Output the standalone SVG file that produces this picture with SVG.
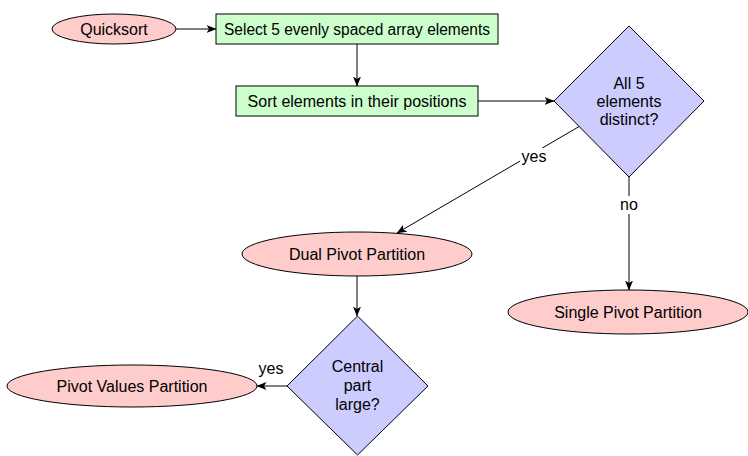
<svg xmlns="http://www.w3.org/2000/svg" width="748" height="456" viewBox="0 0 748 456">
  <style>
    text { font-family: "Liberation Sans", Arial, sans-serif; font-size: 16px; fill: #000; text-anchor: middle; }
    .start { fill: #ffcccc; stroke: #000; stroke-width: 1; }
    .proc { fill: #ccffcc; stroke: #000; stroke-width: 1; }
    .dec { fill: #ccccff; stroke: #000; stroke-width: 1; }
    .edge { fill: none; stroke: #000; stroke-width: 1; marker-end: url(#arrow); }
    .lbl { fill: #fff; stroke: none; }
  </style>
  <defs>
    <marker id="arrow" viewBox="0 0 10 8" refX="9.5" refY="4" markerWidth="10" markerHeight="8" markerUnits="userSpaceOnUse" orient="auto">
      <path d="M0,0 L10,4 L0,8 L2.5,4 Z" fill="#000"/>
    </marker>
  </defs>
  <rect width="748" height="456" fill="#fff"/>

  <g id="connectors">
    <line class="edge" x1="176" y1="29" x2="216" y2="29"/>
    <line class="edge" x1="357" y1="44" x2="357" y2="86"/>
    <line class="edge" x1="478" y1="101" x2="554" y2="101"/>
    <line class="edge" x1="580" y1="126" x2="397" y2="233"/>
    <line class="edge" x1="629" y1="177" x2="629" y2="290"/>
    <line class="edge" x1="357" y1="276" x2="357" y2="316"/>
    <line class="edge" x1="287" y1="386" x2="257" y2="386"/>
    <rect class="lbl" x="520" y="148" width="28" height="18"/>
    <text x="534" y="162">yes</text>
    <rect class="lbl" x="618" y="196" width="22" height="18"/>
    <text x="629" y="210">no</text>
    <text x="271" y="374">yes</text>
  </g>

  <g id="quicksort">
    <ellipse class="start" cx="114" cy="29" rx="62" ry="15"/>
    <text x="114" y="35">Quicksort</text>
  </g>
  <g id="select">
    <rect class="proc" x="216" y="14" width="282" height="30"/>
    <text x="357" y="35" textLength="266" lengthAdjust="spacingAndGlyphs">Select 5 evenly spaced array elements</text>
  </g>
  <g id="sort">
    <rect class="proc" x="236" y="86" width="242" height="30"/>
    <text x="357" y="107">Sort elements in their positions</text>
  </g>
  <g id="distinct">
    <polygon class="dec" points="629,26 704,101 629,177 554,101"/>
    <text x="629" y="89">All 5</text>
    <text x="629" y="107">elements</text>
    <text x="629" y="125">distinct?</text>
  </g>
  <g id="dual">
    <ellipse class="start" cx="357" cy="254" rx="115" ry="22"/>
    <text x="357" y="260">Dual Pivot Partition</text>
  </g>
  <g id="single">
    <ellipse class="start" cx="628" cy="312" rx="120" ry="22"/>
    <text x="628" y="318">Single Pivot Partition</text>
  </g>
  <g id="central">
    <polygon class="dec" points="357.5,316 428,386 357.5,455 287,386"/>
    <text x="357.5" y="372">Central</text>
    <text x="357.5" y="391">part</text>
    <text x="357.5" y="410">large?</text>
  </g>
  <g id="pivotvalues">
    <ellipse class="start" cx="132" cy="386" rx="125" ry="21"/>
    <text x="132" y="392">Pivot Values Partition</text>
  </g>
</svg>
